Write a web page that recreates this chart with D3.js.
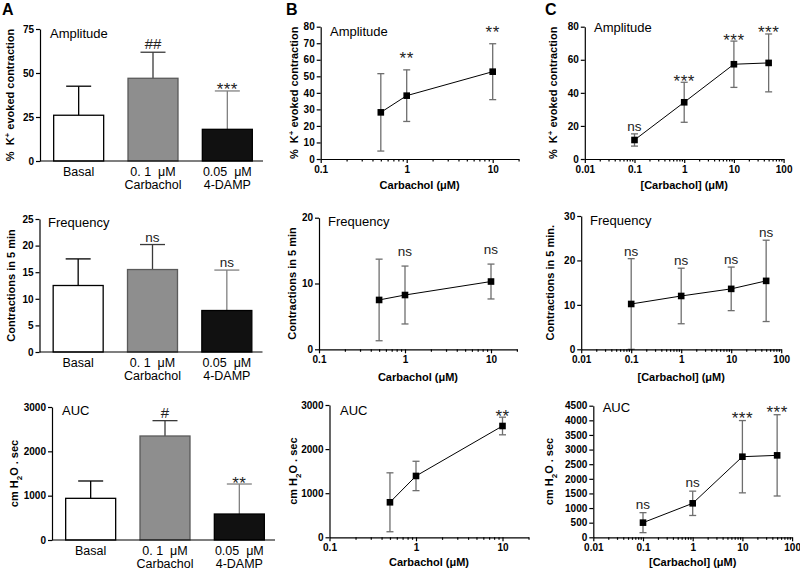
<!DOCTYPE html>
<html>
<head>
<meta charset="utf-8">
<script src="https://cdn.jsdelivr.net/npm/d3@7"></script>
<style>
  body { margin: 0; background: #fff; }
  svg { display: block; }
  text { font-family: "Liberation Sans", Arial, sans-serif; white-space: pre; }
</style>
</head>
<body>
<script>
// ---- data ----
// panel A : bars
const catLine1 = ["Basal", "0. 1  μM", "0.05  μM"];
const catLine2 = ["", "Carbachol", "4-DAMP"];
const aAmpMean = [26, 47, 18];
const aAmpErr = [16.5, 14.8, 21.8];
const aAmpSig = ["", "##", "***"];
const aFreqMean = [12.5, 15.5, 7.8];
const aFreqErr = [5.0, 4.7, 7.6];
const aFreqSig = ["", "ns", "ns"];
const aAucMean = [940, 2346, 586];
const aAucErr = [391, 346, 677];
const aAucSig = ["", "#", "**"];

// panel B : carbachol dose response
const bConc = [0.5, 1, 10];
const bAmpMean = [28.2, 38.3, 52.8];
const bAmpErr = [23.4, 15.6, 16.9];
const bAmpSig = ["", "**", "**"];
const bFreqMean = [7.5, 8.25, 10.3];
const bFreqErr = [6.2, 4.4, 2.65];
const bFreqSig = ["", "ns", "ns"];
const bAucMean = [794, 1391, 2524];
const bAucErr = [668, 333, 200];
const bAucSig = ["", "", "**"];

// panel C : [carbachol] dose response
const cConc = [0.1, 1, 10, 50];
const cAmpMean = [11.5, 34.3, 57.3, 58.1];
const cAmpErr = [3.7, 12.1, 14, 17.5];
const cAmpSig = ["ns", "***", "***", "***"];
const cFreqMean = [10.2, 12.0, 13.6, 15.4];
const cFreqErr = [10.2, 6.25, 4.9, 9.15];
const cFreqSig = ["ns", "ns", "ns", "ns"];
const cAucMean = [501, 1162, 2756, 2802];
const cAucErr = [342, 416, 1236, 1390];
const cAucSig = ["ns", "ns", "***", "***"];

// tick labels
const ampTicksA = [0, 25, 50, 75];
const freqTicksA = [0, 5, 10, 15, 20, 25];
const aucTicks3000 = [0, 1000, 2000, 3000];
const ampTicksB = [0, 10, 20, 30, 40, 50, 60, 70, 80];
const freqTicksB = [0, 10, 20];
const ampTicksC = [0, 20, 40, 60, 80];
const freqTicksC = [0, 10, 20, 30];
const aucTicksC = [0, 500, 1000, 1500, 2000, 2500, 3000, 3500, 4000, 4500];
const bMajors = [0.1, 1, 10];
const cMajors = [0.01, 0.1, 1, 10, 100];

// axis titles (segments: text, shift  -1 = superscript, +1 = subscript)
const ampLabel = [["%  K", 0], ["+", -1], [" evoked contraction", 0]];
const freqLabel = [["Contractions in 5 min", 0]];
const freqLabelC = [["Contractions in 5 min.", 0]];
const aucLabel = [["cm H", 0], ["2", 1], ["O . sec", 0]];

const FONT = '"Liberation Sans", Arial, sans-serif';
const barFill = ["#ffffff", "#8e8e8e", "#111111"];
const barStroke = ["#000000", "#5a5a5a", "#000000"];
const barErr = ["#000000", "#3a3a3a", "#808080"];

const svg = d3.select("body").append("svg")
  .attr("width", 800)
  .attr("height", 571);

function yLabel(g, segs, x, y) {
  const t = g.append("text")
    .attr("transform", "translate(" + x + "," + y + ") rotate(-90)")
    .attr("text-anchor", "middle")
    .attr("font-size", 11)
    .attr("font-weight", "bold");
  let prev = 0;
  segs.forEach(([s, shift]) => {
    const ts = t.append("tspan").text(s);
    const dy = shift * 4 - prev * 4;
    if (dy) ts.attr("dy", dy);
    if (shift) ts.attr("font-size", 8);
    prev = shift;
  });
}

function styleAxis(sel) {
  sel.attr("font-family", FONT).attr("font-size", 10).attr("font-weight", "bold");
  sel.selectAll("path, line").attr("stroke", "#000").attr("stroke-width", 1.2);
}

function sigText(g, label, x, cap, gap) {
  if (!label) return;
  const star = label.indexOf("*") >= 0;
  const hash = label.indexOf("#") >= 0;
  g.append("text")
    .attr("x", x)
    .attr("y", star ? cap - gap + 7.5 : cap - gap)
    .attr("text-anchor", "middle")
    .attr("font-size", star ? 17 : hash ? 15 : 13.5)
    .attr("letter-spacing", star ? 0.5 : 0)
    .attr("fill", "#222")
    .text(label);
}

function title(g, s, x, y) {
  g.append("text").attr("x", x).attr("y", y).attr("font-size", 13).text(s);
}

function barPanel(o) {
  const g = svg.append("g");
  const x = d3.scalePoint().domain(d3.range(o.mean.length))
    .range([o.x0 + 1.5, o.x0 + 224.5]).padding(0.5);
  const y = d3.scaleLinear().domain([0, o.yMax]).range([o.yBot, o.yTop]);

  // error bars (upper only)
  g.selectAll(".eb").data(o.mean).join("line")
    .attr("x1", (d, i) => x(i)).attr("x2", (d, i) => x(i))
    .attr("y1", d => y(d)).attr("y2", (d, i) => y(d + o.err[i]))
    .attr("stroke", (d, i) => barErr[i]).attr("stroke-width", 1.3);
  g.selectAll(".cap").data(o.mean).join("line")
    .attr("x1", (d, i) => x(i) - 12.5).attr("x2", (d, i) => x(i) + 12.5)
    .attr("y1", (d, i) => y(d + o.err[i])).attr("y2", (d, i) => y(d + o.err[i]))
    .attr("stroke", (d, i) => barErr[i]).attr("stroke-width", 1.3);

  g.selectAll(".bar").data(o.mean).join("rect")
    .attr("x", (d, i) => x(i) - 25)
    .attr("y", d => y(d))
    .attr("width", 50)
    .attr("height", d => o.yBot - y(d))
    .attr("fill", (d, i) => barFill[i])
    .attr("stroke", (d, i) => barStroke[i])
    .attr("stroke-width", 1.3);

  o.sig.forEach((s, i) => sigText(g, s, x(i), y(o.mean[i] + o.err[i]), o.gap));

  g.append("g").attr("transform", "translate(" + o.x0 + ",0)")
    .call(d3.axisLeft(y).tickValues(o.yTicks).tickFormat(d3.format("d"))
      .tickSize(4).tickSizeOuter(0).tickPadding(2))
    .call(styleAxis);
  g.append("line")
    .attr("x1", o.x0).attr("x2", o.x0 + 223)
    .attr("y1", o.yBot).attr("y2", o.yBot)
    .attr("stroke", "#000").attr("stroke-width", 1.2);

  catLine1.forEach((c, i) => {
    g.append("text").attr("x", x(i)).attr("y", o.yBot + 15)
      .attr("text-anchor", "middle").attr("font-size", 12.5).text(c);
    if (catLine2[i]) g.append("text").attr("x", x(i)).attr("y", o.yBot + 28)
      .attr("text-anchor", "middle").attr("font-size", 12.5).text(catLine2[i]);
  });

  yLabel(g, o.ylabel, o.labelX, (o.yTop + o.yBot) / 2);
  title(g, o.title, o.titleX, o.titleY);
}

function linePanel(o) {
  const g = svg.append("g");
  const span = Math.log10(o.xDomain[1] / o.xDomain[0]);
  const x = d3.scaleLog().domain(o.xDomain).range([o.x0, o.x0 + o.decade * span]);
  const y = d3.scaleLinear().domain([0, o.yMax]).range([o.yBot, o.yTop]);
  const errCol = "#6e6e6e";

  g.selectAll(".eb").data(o.mean).join("line")
    .attr("x1", (d, i) => x(o.conc[i])).attr("x2", (d, i) => x(o.conc[i]))
    .attr("y1", (d, i) => y(Math.max(0, d - o.err[i])))
    .attr("y2", (d, i) => y(d + o.err[i]))
    .attr("stroke", errCol).attr("stroke-width", 1.3);
  [1, -1].forEach(sign => {
    g.selectAll(".cap" + sign).data(o.mean).join("line")
      .attr("x1", (d, i) => x(o.conc[i]) - 3.5).attr("x2", (d, i) => x(o.conc[i]) + 3.5)
      .attr("y1", (d, i) => y(Math.max(0, d + sign * o.err[i])))
      .attr("y2", (d, i) => y(Math.max(0, d + sign * o.err[i])))
      .attr("stroke", errCol).attr("stroke-width", 1.3);
  });

  g.append("path").datum(o.mean)
    .attr("d", d3.line().x((d, i) => x(o.conc[i])).y(d => y(d)))
    .attr("fill", "none").attr("stroke", "#000").attr("stroke-width", 1);

  g.selectAll(".pt").data(o.mean).join("rect")
    .attr("x", (d, i) => x(o.conc[i]) - 3.3)
    .attr("y", d => y(d) - 3.3)
    .attr("width", 6.6).attr("height", 6.6)
    .attr("fill", "#000");

  o.sig.forEach((s, i) => sigText(g, s, x(o.conc[i]), y(o.mean[i] + o.err[i]), o.gap));

  g.append("g").attr("transform", "translate(" + o.x0 + ",0)")
    .call(d3.axisLeft(y).tickValues(o.yTicks).tickFormat(d3.format("d"))
      .tickSize(4).tickSizeOuter(0).tickPadding(2))
    .call(styleAxis);

  const isMajor = d => o.majors.some(m => Math.abs(m - d) / m < 1e-6);
  const xa = g.append("g").attr("transform", "translate(0," + o.yBot + ")")
    .call(d3.axisBottom(x).tickValues(x.ticks())
      .tickFormat(d => isMajor(d) ? d3.format("~g")(d) : "")
      .tickSize(4).tickSizeOuter(0).tickPadding(3))
    .call(styleAxis);
  xa.selectAll(".tick line").filter(d => !isMajor(d)).attr("y2", 2.5);

  g.append("text")
    .attr("x", (x.range()[0] + x.range()[1]) / 2).attr("y", o.xlabelY)
    .attr("text-anchor", "middle").attr("font-size", 11).attr("font-weight", "bold")
    .text(o.xlabel);

  yLabel(g, o.ylabel, o.labelX, (o.yTop + o.yBot) / 2);
  title(g, o.title, o.titleX, o.titleY);
}

// panel A
barPanel({ x0: 40, yTop: 29, yBot: 161, yMax: 75, yTicks: ampTicksA, mean: aAmpMean, err: aAmpErr,
  sig: aAmpSig, gap: 3, ylabel: ampLabel, labelX: 14, title: "Amplitude", titleX: 50, titleY: 37.5 });
barPanel({ x0: 39.5, yTop: 219, yBot: 352, yMax: 25, yTicks: freqTicksA, mean: aFreqMean, err: aFreqErr,
  sig: aFreqSig, gap: 3, ylabel: freqLabel, labelX: 15, title: "Frequency", titleX: 48, titleY: 227 });
barPanel({ x0: 52, yTop: 407, yBot: 540, yMax: 3000, yTicks: aucTicks3000, mean: aAucMean, err: aAucErr,
  sig: aAucSig, gap: 3, ylabel: aucLabel, labelX: 18, title: "AUC", titleX: 62, titleY: 415 });

// panel B
const bX = "Carbachol (μM)";
linePanel({ xDomain: [0.1, 20], x0: 320.7, decade: 86, yTop: 26.7, yBot: 159, yMax: 80, yTicks: ampTicksB,
  conc: bConc, mean: bAmpMean, err: bAmpErr, sig: bAmpSig, gap: 13, majors: bMajors,
  ylabel: ampLabel, labelX: 298, xlabel: bX, xlabelY: 189, title: "Amplitude", titleX: 330, titleY: 35.5 });
linePanel({ xDomain: [0.1, 20], x0: 319, decade: 86, yTop: 217.7, yBot: 349.3, yMax: 20, yTicks: freqTicksB,
  conc: bConc, mean: bFreqMean, err: bFreqErr, sig: bFreqSig, gap: 10, majors: bMajors,
  ylabel: freqLabel, labelX: 296, xlabel: bX, xlabelY: 381, title: "Frequency", titleX: 328, titleY: 225.5 });
linePanel({ xDomain: [0.1, 20], x0: 329.5, decade: 86.5, yTop: 405, yBot: 537.3, yMax: 3000, yTicks: aucTicks3000,
  conc: bConc, mean: bAucMean, err: bAucErr, sig: bAucSig, gap: 3, majors: bMajors,
  ylabel: aucLabel, labelX: 297, xlabel: bX, xlabelY: 566, title: "AUC", titleX: 340, titleY: 415 });

// panel C
const cX = "[Carbachol] (μM)";
linePanel({ xDomain: [0.01, 100], x0: 584.8, decade: 49.7, yTop: 26.7, yBot: 159, yMax: 80, yTicks: ampTicksC,
  conc: cConc, mean: cAmpMean, err: cAmpErr, sig: cAmpSig, gap: 3, majors: cMajors,
  ylabel: ampLabel, labelX: 557, xlabel: cX, xlabelY: 189, title: "Amplitude", titleX: 594, titleY: 31.5 });
linePanel({ xDomain: [0.01, 100], x0: 581.2, decade: 50, yTop: 216, yBot: 349.3, yMax: 30, yTicks: freqTicksC,
  conc: cConc, mean: cFreqMean, err: cFreqErr, sig: cFreqSig, gap: 3, majors: cMajors,
  ylabel: freqLabelC, labelX: 554, xlabel: cX, xlabelY: 381, title: "Frequency", titleX: 590, titleY: 224.5 });
linePanel({ xDomain: [0.01, 100], x0: 593.3, decade: 49.7, yTop: 405.7, yBot: 537.3, yMax: 4500, yTicks: aucTicksC,
  conc: cConc, mean: cAucMean, err: cAucErr, sig: cAucSig, gap: 4, majors: cMajors,
  ylabel: aucLabel, labelX: 553, xlabel: cX, xlabelY: 566, title: "AUC", titleX: 602.7, titleY: 412 });

// panel letters
[["A", 2], ["B", 286], ["C", 545]].forEach(([s, x]) => {
  svg.append("text").attr("x", x).attr("y", 15)
    .attr("font-size", 16).attr("font-weight", "bold").text(s);
});
</script>
</body>
</html>
